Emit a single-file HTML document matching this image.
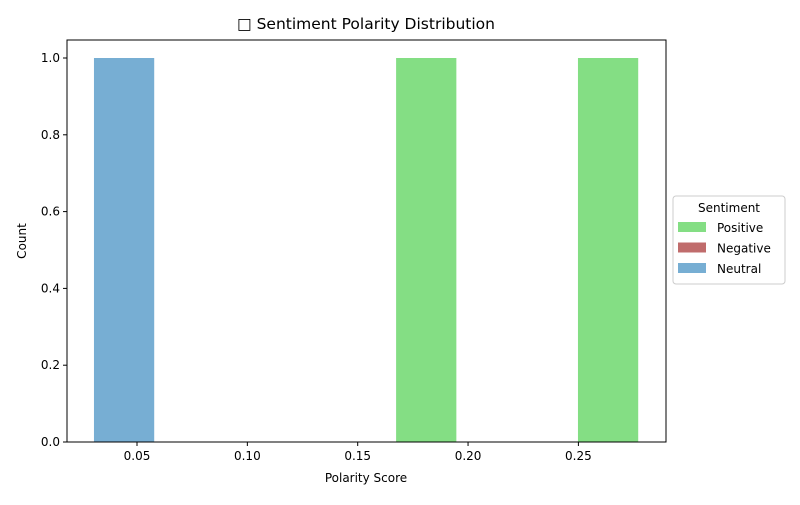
<!DOCTYPE html>
<html><head><meta charset="utf-8"><style>
body{margin:0;background:#fff}
svg{font-family:"DejaVu Sans","Liberation Sans",sans-serif}
</style></head><body>
<svg id="chart" width="800" height="500">
<rect width="800" height="500" fill="#fff"/>
<text x="366" y="29" font-size="15.5" text-anchor="middle">□ Sentiment Polarity Distribution</text>
<g id="bars"></g>
<rect x="67" y="40" width="599" height="402" fill="none" stroke="#000" stroke-width="1"/>
<g id="xticks"></g><g id="yticks"></g>
<text x="366" y="482" font-size="12" text-anchor="middle">Polarity Score</text>
<text transform="translate(26,241) rotate(-90)" font-size="12" text-anchor="middle">Count</text>
<g>
<rect x="673" y="196" width="112" height="88" rx="3" fill="#fff" stroke="#ccc"/>
<text x="729" y="212" font-size="12" text-anchor="middle">Sentiment</text>
<g id="legend-items"></g>
</g>
</svg>
<script>
const categories=["Positive","Negative","Neutral"];
const colors=["#84de84","#c06c6c","#77aed3"];
const binStarts=[0.0305,0.1674,0.2498];
const binCategory=["Neutral","Positive","Positive"];
const counts=[1,1,1];
const binWidth=0.0273;
const xTicks=[0.05,0.10,0.15,0.20,0.25];
const yTicks=[0,0.2,0.4,0.6,0.8,1.0];
const NS="http://www.w3.org/2000/svg";
const xs=v=>137+(v-0.05)*2207;
const ys=v=>442-v*384;
function mk(t,a,p){const e=document.createElementNS(NS,t);for(const k in a)e.setAttribute(k,a[k]);p.appendChild(e);return e;}
const bars=document.getElementById('bars');
binStarts.forEach((s,i)=>{
 const c=colors[categories.indexOf(binCategory[i])];
 const r=mk('rect',{x:xs(s),y:ys(counts[i]),width:xs(s+binWidth)-xs(s),height:ys(0)-ys(counts[i]),fill:c},bars);
 
 
});
const xt=document.getElementById('xticks');
xTicks.forEach(v=>{
 mk('line',{x1:xs(v),x2:xs(v),y1:442,y2:446,stroke:'#000'},xt);
 const t=mk('text',{x:xs(v),y:460,'font-size':12,'text-anchor':'middle'},xt);t.textContent=v.toFixed(2);
 
 
});
const yt=document.getElementById('yticks');
yTicks.forEach(v=>{
 mk('line',{x1:63,x2:67,y1:ys(v),y2:ys(v),stroke:'#000'},yt);
 const t=mk('text',{x:60,y:ys(v)+4,'font-size':12,'text-anchor':'end'},yt);t.textContent=v.toFixed(1);
 
 
});
const li=document.getElementById('legend-items');
categories.forEach((c,i)=>{
 const y=222+i*20.5;
 const g=mk('g',{},li);
 
 
 mk('rect',{x:678,y:y,width:28,height:10,fill:colors[i]},g);
 const t=mk('text',{x:717,y:y+10,'font-size':12},g);t.textContent=c;
});
</script>
</body></html>
